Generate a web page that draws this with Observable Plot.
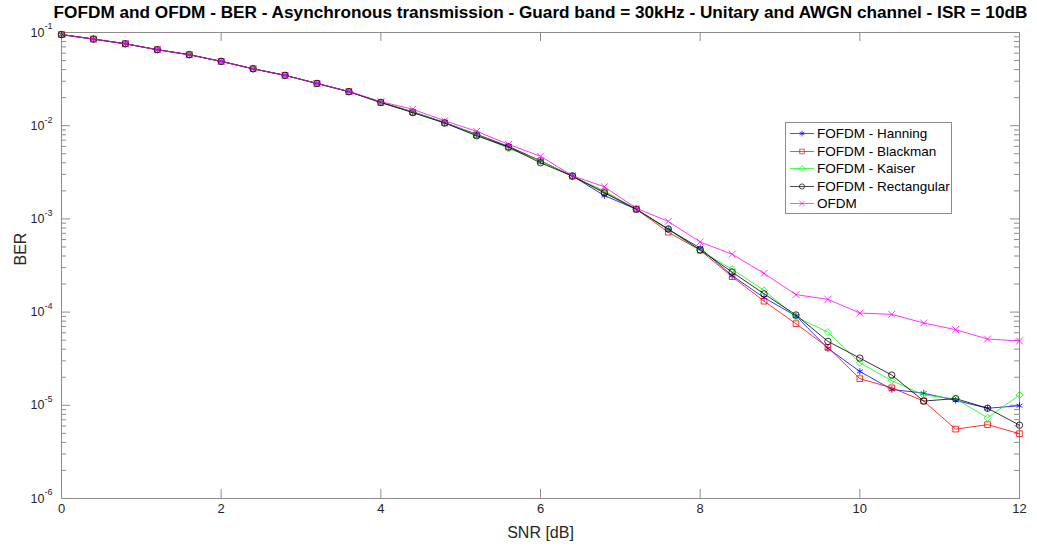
<!DOCTYPE html>
<html>
<head>
<meta charset="utf-8">
<script src="https://cdn.jsdelivr.net/npm/d3@7"></script>
<script src="https://cdn.jsdelivr.net/npm/@observablehq/plot@0.6"></script>
<style>
  html, body { margin: 0; padding: 0; background: #fff; }
  #wrap { position: relative; width: 1037px; height: 547px; overflow: hidden; font-family: "Liberation Sans", Arial, Helvetica, sans-serif; }
  #title { position: absolute; left: 0px; width: 1081px; top: 2px; text-align: center; font-weight: bold; font-size: 17.2px; line-height: 20px; color: #000; white-space: nowrap; }
  #legend { position: absolute; left: 785px; top: 122px; width: 165px; height: 88px; border: 1px solid #8c8c8c; background: #fff; padding-top: 2px; }
  .row { height: 17.5px; display: flex; align-items: center; font-size: 13.5px; color: #000; }
  .row svg { width: 31px; height: 17px; flex: none; }
</style>
</head>
<body>
<div id="wrap">
  <div id="chart"></div>
  <div id="title">FOFDM and OFDM - BER - Asynchronous transmission - Guard band = 30kHz - Unitary and AWGN channel - ISR = 10dB</div>
  <div id="legend"></div>
</div>
<script>
// ---- data ----
const snr = [0, 0.4, 0.8, 1.2, 1.6, 2.0, 2.4, 2.8, 3.2, 3.6, 4.0, 4.4, 4.8, 5.2, 5.6, 6.0, 6.4, 6.8, 7.2, 7.6, 8.0, 8.4, 8.8, 9.2, 9.6, 10.0, 10.4, 10.8, 11.2, 11.6, 12.0];

const berHanning = [0.095, 0.085, 0.0757, 0.0654, 0.0578, 0.0490, 0.0408, 0.0347, 0.0284, 0.0232, 0.0178, 0.0141, 0.0108, 0.0081, 0.0060, 0.0042, 0.00288, 0.00178, 0.00127, 0.00077, 0.000488, 0.000246, 0.000143, 0.0000907, 0.0000408, 0.0000231, 0.0000148, 0.0000135, 0.0000113, 0.0000093, 0.0000099];
const berBlackman = [0.095, 0.085, 0.0757, 0.0654, 0.0578, 0.0490, 0.0408, 0.0347, 0.0284, 0.0232, 0.0177, 0.0140, 0.0107, 0.0080, 0.0059, 0.0042, 0.00288, 0.00195, 0.00127, 0.00072, 0.000461, 0.000240, 0.000131, 0.0000751, 0.0000418, 0.0000193, 0.0000154, 0.0000111, 0.00000555, 0.0000062, 0.00000496];
const berKaiser = [0.095, 0.085, 0.0757, 0.0654, 0.0578, 0.0490, 0.0408, 0.0347, 0.0284, 0.0232, 0.0177, 0.0140, 0.0108, 0.0080, 0.0057, 0.0042, 0.00285, 0.00200, 0.00127, 0.00077, 0.000460, 0.000288, 0.000171, 0.0000885, 0.0000611, 0.0000286, 0.0000184, 0.0000129, 0.0000117, 0.00000736, 0.0000129];
const berRectangular = [0.095, 0.085, 0.0757, 0.0654, 0.0578, 0.0490, 0.0408, 0.0347, 0.0284, 0.0232, 0.0178, 0.0138, 0.0107, 0.0078, 0.0059, 0.0040, 0.00288, 0.00190, 0.00127, 0.00078, 0.000465, 0.000269, 0.000157, 0.0000931, 0.0000485, 0.0000321, 0.0000211, 0.0000111, 0.0000118, 0.0000093, 0.00000612];
const berOFDM = [0.095, 0.085, 0.0757, 0.0654, 0.0578, 0.0490, 0.0408, 0.0347, 0.0284, 0.0234, 0.0181, 0.0150, 0.0113, 0.0087, 0.0063, 0.0047, 0.00290, 0.00221, 0.00130, 0.00094, 0.000566, 0.000418, 0.000260, 0.000154, 0.000137, 0.0000977, 0.0000946, 0.0000764, 0.0000648, 0.0000514, 0.0000490];

const seriesNames = ["FOFDM - Hanning", "FOFDM - Blackman", "FOFDM - Kaiser", "FOFDM - Rectangular", "OFDM"];
const seriesColors = ["#0000ff", "#ff0000", "#00ff00", "#000000", "#ff00ff"];
const seriesSymbols = ["asterisk", "square", "diamond2", "circle", "times"];
const seriesValues = [berHanning, berBlackman, berKaiser, berRectangular, berOFDM];

const xTicks = [0, 2, 4, 6, 8, 10, 12];
const yTicks = [1e-6, 1e-5, 1e-4, 1e-3, 1e-2, 1e-1];

// ---- build ----
const W = 1037, H = 547;
const mL = 61, mR = 18, mT = 32, mB = 49;
const innerW = W - mL - mR, innerH = H - mT - mB;

const rows = [];
seriesNames.forEach((name, i) => snr.forEach((x, j) => rows.push({series: name, i, x, y: seriesValues[i][j]})));

const yMinor = [];
for (let e = -6; e < -1; e++) for (let m = 2; m <= 9; m++) yMinor.push(m * Math.pow(10, e));

const axisColor = "#8c8c8c";
const marks = [
  Plot.frame({stroke: axisColor, strokeWidth: 1}),
  Plot.tickX(xTicks, {x: d => d, stroke: axisColor, insetTop: innerH - 9}),
  Plot.tickX(xTicks, {x: d => d, stroke: axisColor, insetBottom: innerH - 9}),
  Plot.tickY(yTicks, {y: d => d, stroke: axisColor, insetRight: innerW - 9}),
  Plot.tickY(yTicks, {y: d => d, stroke: axisColor, insetLeft: innerW - 9}),
  Plot.tickY(yMinor, {y: d => d, stroke: axisColor, insetRight: innerW - 5}),
  Plot.tickY(yMinor, {y: d => d, stroke: axisColor, insetLeft: innerW - 5}),
  Plot.text(xTicks, {x: d => d, frameAnchor: "bottom", dy: 14, text: d => String(d), fontSize: 13, fill: "#262626"}),
  Plot.text(yTicks, {y: d => d, frameAnchor: "left", dx: -17, textAnchor: "end", text: () => "10", fontSize: 12.5, fill: "#262626"}),
  Plot.text(yTicks, {y: d => d, frameAnchor: "left", dx: -17, dy: -6, textAnchor: "start", text: d => String(Math.round(Math.log10(d))), fontSize: 9, fill: "#262626"}),
  Plot.text(["SNR [dB]"], {frameAnchor: "bottom", dy: 39, text: d => d, fontSize: 16, fill: "#262626"}),
  Plot.text(["BER"], {frameAnchor: "left", dx: -41, rotate: -90, text: d => d, fontSize: 16, fill: "#262626"})
];
seriesNames.forEach((name, i) => {
  const data = rows.filter(r => r.i === i);
  marks.push(Plot.line(data, {x: "x", y: "y", stroke: seriesColors[i], strokeWidth: 0.8}));
  marks.push(Plot.dot(data, {x: "x", y: "y", stroke: seriesColors[i], fill: "none", symbol: () => seriesSymbols[i], r: 3.2, strokeWidth: 0.8}));
});

const chart = Plot.plot({
  width: W, height: H,
  marginLeft: mL, marginRight: mR, marginTop: mT, marginBottom: mB,
  style: {fontFamily: "'Liberation Sans', Arial, Helvetica, sans-serif", background: "#fff", overflow: "visible"},
  x: {domain: [0, 12], axis: null},
  y: {type: "log", domain: [1e-6, 1e-1], axis: null},
  marks
});
document.getElementById("chart").appendChild(chart);

// ---- legend ----
const legend = document.getElementById("legend");
seriesNames.forEach((name, i) => {
  const row = document.createElement("div");
  row.className = "row";
  const sym = {asterisk: d3.symbolAsterisk, square: d3.symbolSquare, diamond2: d3.symbolDiamond2, circle: d3.symbolCircle, times: d3.symbolTimes}[seriesSymbols[i]];
  const path = d3.symbol(sym, Math.PI * 2.6 * 2.6)();
  row.innerHTML = `<svg viewBox="0 0 31 17"><line x1="4" x2="28" y1="8.5" y2="8.5" stroke="${seriesColors[i]}" stroke-width="0.7"/><path d="${path}" transform="translate(16,8.5)" fill="none" stroke="${seriesColors[i]}" stroke-width="0.7"/></svg><span>${name}</span>`;
  legend.appendChild(row);
});
</script>
</body>
</html>
